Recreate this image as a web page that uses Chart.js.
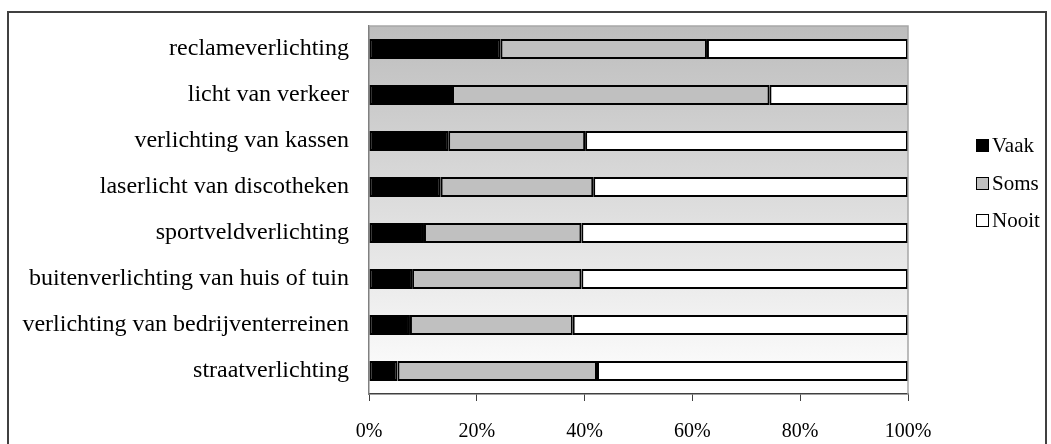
<!DOCTYPE html>
<html>
<head>
<meta charset="utf-8">
<script src="https://cdn.jsdelivr.net/npm/chart.js@4.4.1/dist/chart.umd.min.js"></script>
<style>
    html, body { margin: 0; padding: 0; background: #fff; }
    #wrap { position: relative; width: 1051px; height: 444px; overflow: hidden; }
    #frame { position: absolute; left: 7px; top: 11px; width: 1040px; height: 460px; border: 2px solid #404040; box-sizing: border-box; }
    #chart { position: absolute; left: 0; top: 0; }
    #legend { position: absolute; left: 976px; top: 136px; font-family: "Liberation Serif", serif; font-size: 21px; color: #000; }
    .item { display: flex; align-items: center; height: 19px; margin-bottom: 18.5px; }
    .box { width: 11px; height: 11px; border: 1.5px solid #000; margin-right: 3px; }
</style>
</head>
<body>
<div id="wrap">
    <div id="frame"></div>
    <canvas id="chart" width="1051" height="444"></canvas>
    <div id="legend"></div>
</div>
<script>
const categories = [
    'reclameverlichting',
    'licht van verkeer',
    'verlichting van kassen',
    'laserlicht van discotheken',
    'sportveldverlichting',
    'buitenverlichting van huis of tuin',
    'verlichting van bedrijventerreinen',
    'straatverlichting'
];
const vaak = [24.4, 15.4, 14.7, 13.3, 10.2, 8.0, 7.6, 5.3];
const soms = [38.3, 58.9, 25.4, 28.3, 29.2, 31.4, 30.2, 37.0];
const nooit = [37.3, 25.7, 59.9, 58.4, 60.6, 60.6, 62.2, 57.7];
const xTicks = [0, 20, 40, 60, 80, 100];

const seriesNames = ['Vaak', 'Soms', 'Nooit'];
const seriesColors = ['#000000', '#c0c0c0', '#ffffff'];

// achtergrond met verloop in het plotvlak
const plotBackground = {
    id: 'plotBackground',
    beforeDraw(chart) {
        const { ctx, chartArea: a } = chart;
        const g = ctx.createLinearGradient(0, a.top, 0, a.bottom);
        g.addColorStop(0, '#bdbdbd');
        g.addColorStop(1, '#ffffff');
        ctx.save();
        ctx.fillStyle = g;
        ctx.fillRect(a.left, a.top, a.right - a.left, a.bottom - a.top);
        ctx.restore();
    },
    afterDraw(chart) {
        const { ctx, chartArea: a } = chart;
        ctx.save();
        ctx.strokeStyle = '#a6a6a6';
        ctx.lineWidth = 1.5;
        ctx.beginPath();
        ctx.moveTo(a.left, a.top);
        ctx.lineTo(a.right, a.top);
        ctx.lineTo(a.right, a.bottom);
        ctx.stroke();
        ctx.restore();
    }
};

const ctx = document.getElementById('chart');
const chart = new Chart(ctx, {
    type: 'bar',
    data: {
        labels: categories,
        datasets: [vaak, soms, nooit].map((d, i) => ({
            label: seriesNames[i],
            data: d,
            backgroundColor: seriesColors[i],
            borderColor: '#000000',
            borderWidth: 2,
            borderSkipped: false,
            categoryPercentage: 1,
            barPercentage: 0.44
        }))
    },
    options: {
        indexAxis: 'y',
        responsive: false,
        animation: false,
        devicePixelRatio: 1,
        layout: { padding: { top: 26, right: 143, bottom: 0, left: 0 } },
        plugins: {
            legend: { display: false },
            tooltip: { enabled: false }
        },
        scales: {
            x: {
                stacked: true,
                min: 0,
                max: 100,
                afterBuildTicks: (s) => { s.ticks = xTicks.map(v => ({ value: v })); },
                afterFit: (s) => { s.height = 50; },
                grid: { drawOnChartArea: false, drawTicks: true, tickLength: 7, color: '#404040', lineWidth: 1 },
                border: { display: true, color: '#404040', width: 1.5 },
                ticks: {
                    padding: 19,
                    color: '#000',
                    font: { family: 'Liberation Serif', size: 20 },
                    callback: (v) => v + '%'
                }
            },
            y: {
                stacked: true,
                afterFit: (s) => { s.width = 369; s.paddingTop = 0; s.paddingBottom = 0; },
                grid: { display: false },
                border: { display: true, color: '#808080', width: 1.5 },
                ticks: {
                    padding: 12,
                    color: '#000',
                    font: { family: 'Liberation Serif', size: 24 }
                }
            }
        }
    },
    plugins: [plotBackground]
});

// legenda
const legend = document.getElementById('legend');
seriesNames.forEach((name, i) => {
    const item = document.createElement('div');
    item.className = 'item';
    const box = document.createElement('div');
    box.className = 'box';
    box.style.background = seriesColors[i];
    const txt = document.createElement('span');
    txt.textContent = name;
    item.appendChild(box);
    item.appendChild(txt);
    legend.appendChild(item);
});
</script>
</body>
</html>
